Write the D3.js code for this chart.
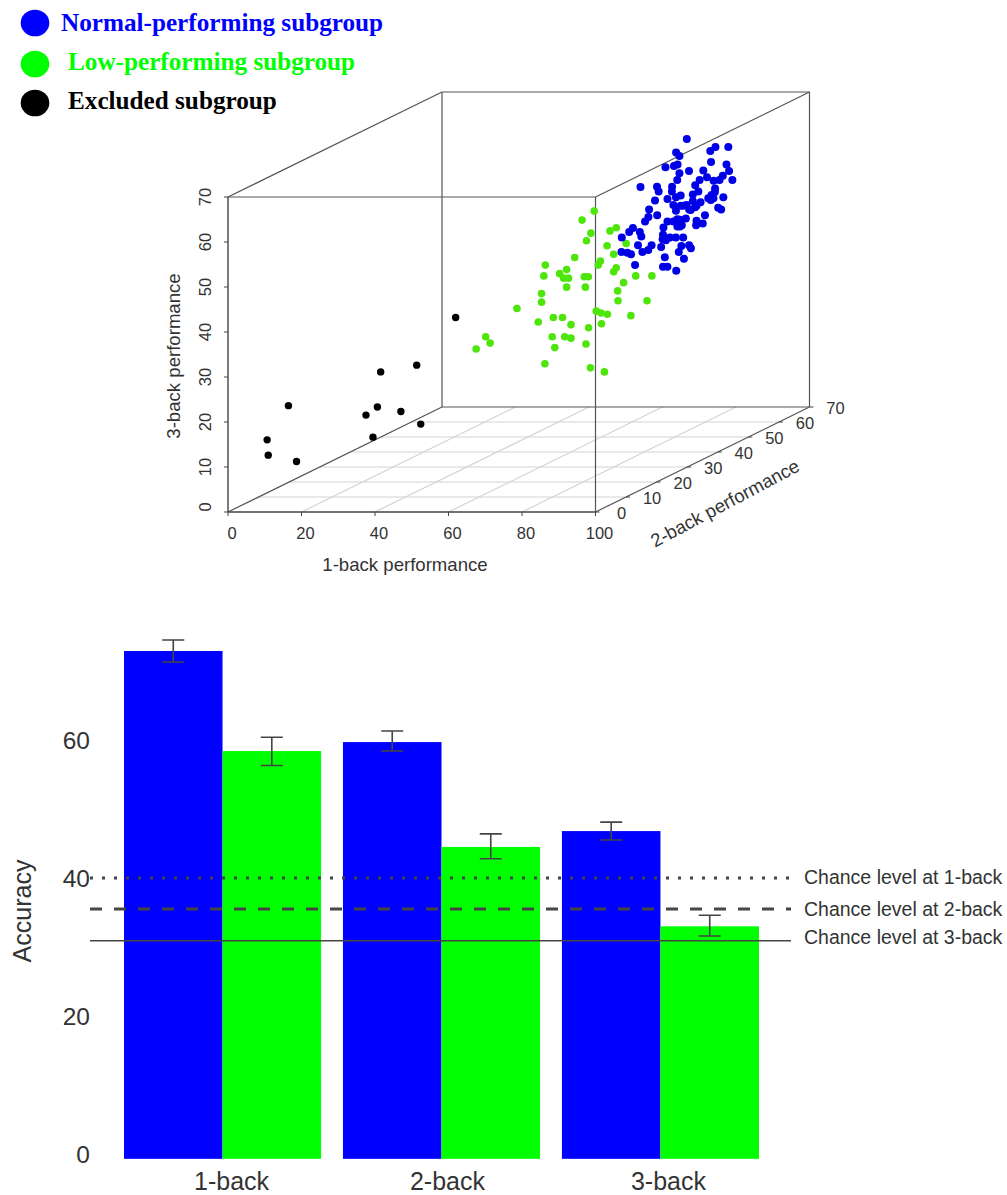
<!DOCTYPE html>
<html>
<head>
<meta charset="utf-8">
<script src="https://cdn.jsdelivr.net/npm/d3@7"></script>
<style>
body { margin: 0; background: #fff; }
text { font-family: "Liberation Sans", Arial, sans-serif; fill: #333; }
.legend { font-family: "Liberation Serif", serif; font-weight: bold; font-size: 25.2px; }
</style>
</head>
<body>
<div id="graphdiv"></div>
<script>
// top panel, values as [1-back, 2-back, 3-back]
var normalPts = [
  [75.2,60,62.9],[72.3,60,59.9],[73.2,60,59.1],[83.0,60,61.1],[81.6,60,60.2],[86.5,60,61.1],[81.8,60,57.8],
  [86.0,60,57.2],[86.7,60,55.8],[87.6,60,53.8],[79.7,60,55.9],[75.8,60,55.8],[69.4,60,56.6],[71.7,60,56.9],
  [72.7,60,57.2],[73.2,60,55.3],[72.6,60,53.8],[62.6,60,52.2],[67.1,60,52.3],[71.2,60,52.3],[77.5,60,52.6],
  [78.7,60,53.8],[80.7,60,54.4],[82.5,60,53.6],[84.1,60,53.8],[85.0,60,54.7],[82.9,60,51.9],
  [74.2,52,53.9],[77.8,52,53.9],[73.2,52,51.9],[76.6,52,52.2],[78.9,52,52.6],[80.2,52,53.0],[85.0,52,53.9],
  [83.5,52,53.2],[83.5,52,51.8],[85.6,52,51.5],[87.7,52,52.4],[89.1,52,52.4],[88.4,52,52.0],[91.8,52,52.6],
  [90.4,52,50.3],[91.2,52,49.9],[86.8,52,48.6],[84.5,52,47.4],[86.2,52,46.8],[84.4,52,46.4],[81.6,52,47.9],
  [80.0,52,47.6],[80.5,52,46.4],[79.3,52,46.1],[76.6,52,47.2],[75.5,52,45.9],[78.2,52,50.9],[78.9,52,49.6],
  [80.2,52,50.7],[81.8,52,50.9],[82.9,52,49.8],[84.5,52,50.7],[71.6,52,49.9],[73.8,52,48.6],[71.4,52,48.2],
  [70.5,52,47.2],[67.2,52,45.8],[78.2,52,47.2],[79.3,52,47.7],[80.0,52,46.1],[84.1,52,50.4],[82.5,52,49.9],
  [80.9,52,50.7],[88.6,52,53.1],[89.5,52,53.8],
  [72.0,45,47.2],[74.9,45,47.2],[75.3,45,46.2],[70.0,45,46.0],[74.4,45,44.3],[78.1,45,44.3],[77.2,45,43.2],
  [75.6,45,42.8],[69.9,45,42.8],[71.5,45,42.6],[72.5,45,42.3],[80.7,45,43.9],[81.2,45,46.6],[82.0,45,45.4],
  [83.1,45,46.0],[84.7,45,46.0],[86.7,45,46.0],[86.2,45,44.1],[85.5,45,42.8],[88.3,45,44.3],[88.8,45,43.6],
  [86.9,45,41.3],[81.7,45,41.6],[81.2,45,39.5],[82.4,45,39.5],[84.8,45,38.6],[73.6,45,39.9],[81.1,45,45.6]
];
var lowPts = [
  [70.8,35,55.2],[67.5,35,53.2],[69.9,35,50.3],[68.7,35,48.6],[75.1,35,50.8],[76.8,35,51.5],[74.3,35,47.5],
  [79.5,35,48.0],[76.1,35,45.6],[65.5,35,44.9],[72.5,35,44.1],[71.9,35,43.2],[57.5,35,43.2],[63.3,35,42.2],
  [61.4,35,41.3],[62.5,35,40.3],[63.8,35,40.3],[57.1,35,40.8],[68.1,35,40.6],[69.2,35,40.6],[76.8,35,42.6],
  [76.1,35,41.7],[82.1,35,40.8],[86.5,35,40.8],[78.8,35,39.3],[63.3,35,38.3],[68.4,35,38.3],
  [85.5,25,40.8],[64.8,25,40.2],[64.8,25,38.3],[85.6,25,38.6],[93.5,25,38.6],[58.1,25,36.9],[79.7,25,36.3],
  [81.0,25,35.9],[82.7,25,35.6],[89.1,25,35.3],[68.0,25,34.9],[70.5,25,34.9],[63.9,25,33.9],[72.8,25,33.3],
  [81.1,25,33.5],[77.6,25,32.6],[49.6,25,30.6],[50.8,25,29.2],[47.0,25,27.9],[67.7,25,30.6],[71.1,25,30.6],
  [72.8,25,30.3],[76.9,25,29.0],[68.4,25,28.2],[65.7,25,24.6],[78.1,25,23.7],[81.9,25,22.8]
];
var excludedPts = [
  [53.9,10,39.9],[43.3,10,29.3],[33.5,10,27.8],[32.6,10,20.0],[29.5,10,18.2],[39.0,10,19.0],
  [44.4,10,16.2],[31.4,10,13.3],[8.4,10,20.3],[2.6,10,12.7],[2.9,10,9.3],[10.6,10,7.9]
];
var xTicks3d = [0, 20, 40, 60, 80, 100];
var yTicks3d = [0, 10, 20, 30, 40, 50, 60, 70];
var zTicks3d = [0, 10, 20, 30, 40, 50, 60, 70];

var legendLabels = ["Normal-performing subgroup", "Low-performing subgroup", "Excluded subgroup"];

// bottom panel
var categories = ["1-back", "2-back", "3-back"];
var subgroups = ["normal", "low"];
var normalAcc = [72.9, 59.7, 46.8];
var lowAcc = [58.4, 44.5, 33.0];
var normalErr = [[71.3, 74.5], [58.4, 61.3], [45.5, 48.1]];
var lowErr = [[56.3, 60.4], [42.8, 46.4], [31.6, 34.6]];
var accTicks = [0, 20, 40, 60];
var chanceVals = [40, 35.5, 30.9];
var chanceLabels = ["Chance level at 1-back", "Chance level at 2-back", "Chance level at 3-back"];

var svg = d3.select("#graphdiv").append("svg").attr("width", 1007).attr("height", 1195);

// oblique projection like scatterplot3d
var xs = d3.scaleLinear().domain([0, 100]).range([228, 595.5]);
var yShiftX = d3.scaleLinear().domain([0, 70]).range([0, 214]);
var yShiftY = d3.scaleLinear().domain([0, 70]).range([0, 105]);
var zs = d3.scaleLinear().domain([0, 70]).range([512, 197]);
function px(x, y) { return xs(x) + yShiftX(y); }
function py(y, z) { return zs(z) - yShiftY(y); }

var g3 = svg.append("g");
var boxColor = "#555";

function line3(a, b, color, w) {
    g3.append("line")
        .attr("x1", px(a[0], a[1])).attr("y1", py(a[1], a[2]))
        .attr("x2", px(b[0], b[1])).attr("y2", py(b[1], b[2]))
        .attr("stroke", color).attr("stroke-width", w);
}

// floor grid
yTicks3d.slice(1, -1).forEach(function(v) { line3([0, v, 0], [100, v, 0], "#d4d4d4", 1.2); });
xTicks3d.slice(1, -1).forEach(function(v) { line3([v, 0, 0], [v, 70, 0], "#d4d4d4", 1.2); });

// box
line3([0, 70, 0], [100, 70, 0], boxColor, 1.2);
line3([0, 0, 0], [0, 70, 0], boxColor, 1.2);
line3([100, 0, 0], [100, 70, 0], boxColor, 1.2);
line3([0, 70, 0], [0, 70, 70], boxColor, 1.2);
line3([100, 70, 0], [100, 70, 70], boxColor, 1.2);
line3([0, 70, 70], [100, 70, 70], boxColor, 1.2);
line3([0, 0, 70], [0, 70, 70], boxColor, 1.2);
line3([100, 0, 70], [100, 70, 70], boxColor, 1.2);
line3([0, 0, 70], [100, 0, 70], boxColor, 1.2);
line3([100, 0, 0], [100, 0, 70], boxColor, 1.2);
line3([0, 0, 0], [0, 0, 70], "#444", 1.4);
line3([0, 0, 0], [100, 0, 0], "#444", 1.4);

// x axis
g3.selectAll(".xt").data(xTicks3d).enter().append("line")
    .attr("x1", function(d) { return xs(d); }).attr("x2", function(d) { return xs(d); })
    .attr("y1", 512).attr("y2", 516).attr("stroke", "#444");
g3.selectAll(".xl").data(xTicks3d).enter().append("text")
    .attr("x", function(d) { return xs(d) + 4; }).attr("y", 539)
    .attr("text-anchor", "middle").attr("font-size", 16.5)
    .text(function(d) { return d; });

// z axis
g3.selectAll(".zt").data(zTicks3d).enter().append("line")
    .attr("x1", 224).attr("x2", 228)
    .attr("y1", function(d) { return zs(d); }).attr("y2", function(d) { return zs(d); })
    .attr("stroke", "#444");
g3.selectAll(".zl").data(zTicks3d).enter().append("text")
    .attr("transform", function(d) { return "translate(211," + (zs(d) - (d == 0 ? 5 : 0)) + ") rotate(-90)"; })
    .attr("text-anchor", "middle").attr("font-size", 16.5)
    .text(function(d) { return d; });

// 2-back axis
g3.selectAll(".yt").data(yTicks3d).enter().append("line")
    .attr("x1", function(d) { return px(100, d); }).attr("x2", function(d) { return px(100, d) + 4; })
    .attr("y1", function(d) { return py(d, 0); }).attr("y2", function(d) { return py(d, 0); })
    .attr("stroke", "#444");
g3.selectAll(".yl").data(yTicks3d).enter().append("text")
    .attr("x", function(d) { return px(100, d) + 26; }).attr("y", function(d) { return py(d, 0) + 7; })
    .attr("text-anchor", "middle").attr("font-size", 16.5)
    .text(function(d) { return d; });

g3.append("text").attr("x", 405).attr("y", 571).attr("text-anchor", "middle").attr("font-size", 18.6).text("1-back performance");
g3.append("text").attr("transform", "translate(180,356) rotate(-90)").attr("text-anchor", "middle").attr("font-size", 18.6).text("3-back performance");
g3.append("text").attr("transform", "translate(728,509) rotate(-28)").attr("text-anchor", "middle").attr("font-size", 18.6).text("2-back performance");

// points
function drawPts(data, color, r) {
    g3.append("g").selectAll("circle").data(data).enter().append("circle")
        .attr("cx", function(d) { return px(d[0], d[1]) - 1; })
        .attr("cy", function(d) { return py(d[1], d[2]); })
        .attr("r", r).attr("fill", color);
}
drawPts(excludedPts, "#000", 3.7);
drawPts(lowPts, "#4ee60a", 3.8);
drawPts(normalPts, "#0000e6", 4);

// legend
var legendCx = [35, 35, 35];
var legendCy = [23, 64, 103];
var legendX = [61, 68, 68];
var legendY = [31, 70, 109];
var legendColors = ["#0000ff", "#00ff00", "#000000"];
legendLabels.forEach(function(t, i) {
    svg.append("ellipse").attr("cx", legendCx[i]).attr("cy", legendCy[i]).attr("rx", 14.3).attr("ry", 13.3).attr("fill", legendColors[i]);
    svg.append("text").attr("class", "legend").attr("x", legendX[i]).attr("y", legendY[i])
        .style("fill", legendColors[i]).text(t);
});

// bar chart
var y = d3.scaleLinear().domain([0, 60]).range([1154, 740]);
var barBase = y(-0.7);
var x0 = d3.scaleBand().domain(categories).range([124, 759]).paddingInner(0.1).paddingOuter(0);
var x1 = d3.scaleBand().domain(subgroups).range([0, x0.bandwidth()]);
var gb = svg.append("g");

function drawBars(vals, key, color) {
    gb.append("g").selectAll("rect").data(categories).enter().append("rect")
        .attr("x", function(d) { return x0(d) + x1(key); })
        .attr("width", x1.bandwidth())
        .attr("y", function(d, i) { return y(vals[i]); })
        .attr("height", function(d, i) { return barBase - y(vals[i]); })
        .attr("fill", color);
}
drawBars(normalAcc, "normal", "#0000ff");
drawBars(lowAcc, "low", "#00ff00");

function drawErr(errs, key) {
    categories.forEach(function(c, i) {
        var cx = x0(c) + x1(key) + x1.bandwidth() / 2;
        var lo = y(errs[i][0]), hi = y(errs[i][1]);
        var p = "M" + (cx - 11) + "," + hi + " h22 M" + cx + "," + hi + " V" + lo + " M" + (cx - 11) + "," + lo + " h22";
        gb.append("path").attr("d", p).attr("fill", "none").attr("stroke", "#444").attr("stroke-width", 1.6);
    });
}
drawErr(normalErr, "normal");
drawErr(lowErr, "low");

// chance lines
var chanceDash = ["3 9", "12 12", null];
var chanceWidth = [3, 3, 1.6];
var chanceLabelY = [884, 916, 944];
chanceVals.forEach(function(v, i) {
    gb.append("line").attr("x1", 90).attr("x2", 791).attr("y1", y(v)).attr("y2", y(v))
        .attr("stroke", "#444").attr("stroke-width", chanceWidth[i])
        .attr("stroke-dasharray", chanceDash[i]);
    gb.append("text").attr("x", 804).attr("y", chanceLabelY[i]).attr("font-size", 19.5).text(chanceLabels[i]);
});

gb.selectAll(".at").data(accTicks).enter().append("text")
    .attr("x", 90).attr("y", function(d) { return y(d) + 8.5; })
    .attr("text-anchor", "end").attr("font-size", 24.5)
    .text(function(d) { return d; });
var catOffset = [9, 6, 8];
gb.selectAll(".cat").data(categories).enter().append("text")
    .attr("x", function(d, i) { return x0(d) + x0.bandwidth() / 2 + catOffset[i]; }).attr("y", 1189.5)
    .attr("text-anchor", "middle").attr("font-size", 25)
    .text(function(d) { return d; });
gb.append("text").attr("transform", "translate(31,911) rotate(-90)")
    .attr("text-anchor", "middle").attr("font-size", 25).text("Accuracy");
</script>
</body>
</html>
